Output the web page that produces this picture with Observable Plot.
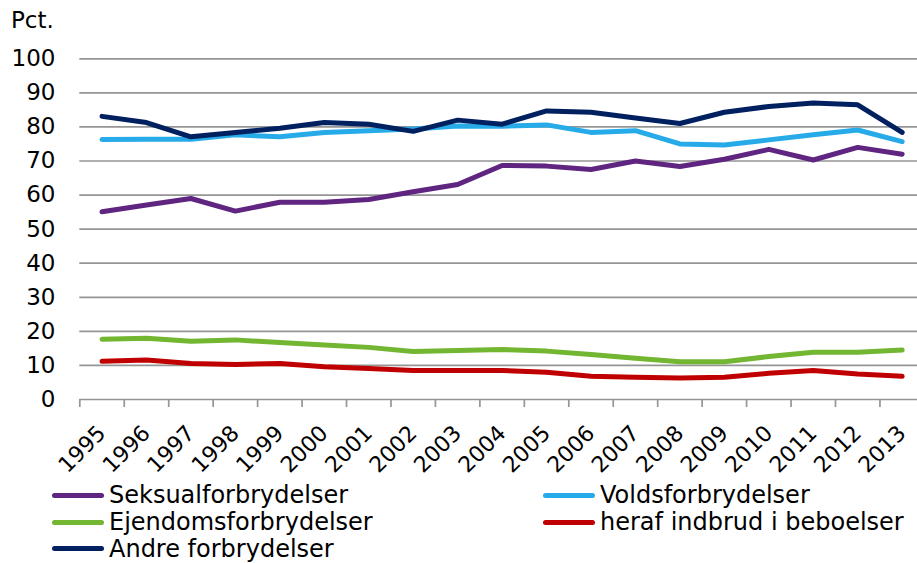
<!DOCTYPE html>
<html>
<head>
<meta charset="utf-8">
<script src="https://cdn.jsdelivr.net/npm/d3@7"></script>
<script src="https://cdn.jsdelivr.net/npm/@observablehq/plot@0.6"></script>
<style>
  html, body { margin: 0; padding: 0; background: #fff; }
  #wrap { position: relative; width: 917px; height: 563px; overflow: hidden; font-family: "DejaVu Sans", Verdana, sans-serif; }
  #pct { position: absolute; left: 11px; top: 7px; font-size: 23px; color: #000; }
  #legend { position: absolute; left: 0; top: 481px; width: 917px; height: 82px; }
  .item { position: absolute; display: flex; align-items: center; font-size: 24px; line-height: 28px; color: #000; white-space: nowrap; }
  .sw { width: 52px; height: 5px; border-radius: 3px; margin-right: 5px; }
</style>
</head>
<body>
<div id="wrap">
  <div id="chart"></div>
  <div id="pct">Pct.</div>
  <div id="legend"></div>
</div>
<script>
const years = [1995,1996,1997,1998,1999,2000,2001,2002,2003,2004,2005,2006,2007,2008,2009,2010,2011,2012,2013];
const seriesNames = ["Seksualforbrydelser","Voldsforbrydelser","Ejendomsforbrydelser","heraf indbrud i beboelser","Andre forbrydelser"];
const seriesColors = ["#5F2580","#27AAE8","#72B632","#C00000","#002060"];
const seksual  = [55.1,57.1,59.0,55.3,57.9,57.9,58.7,61.0,63.1,68.7,68.5,67.5,70.0,68.4,70.5,73.4,70.3,74.0,72.0];
const volds    = [76.3,76.4,76.4,77.7,77.1,78.4,78.9,79.4,80.3,80.2,80.6,78.4,78.9,75.0,74.7,76.2,77.7,79.1,75.7];
const ejendom  = [17.7,18.0,17.1,17.5,16.7,16.0,15.3,14.1,14.4,14.7,14.2,13.2,12.1,11.1,11.1,12.6,13.9,13.9,14.5];
const indbrud  = [11.2,11.6,10.6,10.3,10.6,9.6,9.1,8.5,8.5,8.5,8.0,6.8,6.5,6.3,6.5,7.7,8.5,7.5,6.8];
const andre    = [83.1,81.3,77.1,78.4,79.6,81.3,80.8,78.7,82.0,80.8,84.7,84.3,82.6,81.0,84.3,86.0,87.0,86.5,78.4];
const yTicks = [0,10,20,30,40,50,60,70,80,90,100];

const seriesValues = [seksual, volds, ejendom, indbrud, andre];
const rows = [];
seriesNames.forEach((name, s) => {
  years.forEach((yr, i) => rows.push({series: name, year: yr, value: seriesValues[s][i]}));
});
const boundaries = [...years.map(y => y - 0.5), years[years.length - 1] + 0.5];
const gray = "#959595";

const chart = Plot.plot({
  width: 917,
  height: 481,
  marginLeft: 79,
  marginRight: 0,
  marginTop: 58,
  marginBottom: 82,
  style: {fontFamily: "DejaVu Sans, Verdana, sans-serif", fontSize: "23px", color: "#000", background: "#fff"},
  x: {domain: [years[0] - 0.5, years[years.length - 1] + 0.5], range: [79.3, 923.9]},
  y: {domain: [0, 100], range: [399, 58.3]},
  color: {domain: seriesNames, range: seriesColors},
  marks: [
    Plot.ruleY(yTicks.filter(d => d > 0), {x1: boundaries[0], x2: boundaries[boundaries.length - 1], stroke: gray, strokeWidth: 1.7}),
    Plot.ruleY([0], {x1: boundaries[0], x2: boundaries[boundaries.length - 1], stroke: gray, strokeWidth: 1.7}),
    Plot.axisX(boundaries, {tickSize: 8, tickFormat: () => "", stroke: gray, strokeWidth: 1.7, label: null}),
    Plot.axisX(years, {tickSize: 0, tickRotate: -45, tickPadding: 30, tickFormat: d => String(d), label: null, fontSize: 22}),
    Plot.axisY(yTicks, {tickSize: 0, tickPadding: 24, label: null, fontSize: 23}),
    Plot.line(rows, {x: "year", y: "value", z: "series", stroke: "series", strokeWidth: 5, strokeLinecap: "round", strokeLinejoin: "round"})
  ]
});
document.getElementById("chart").appendChild(chart);

const legendPos = [
  {left: 52, top: 0}, {left: 543, top: 0},
  {left: 52, top: 27}, {left: 543, top: 27},
  {left: 52, top: 53.5}
];
const legend = document.getElementById("legend");
seriesNames.forEach((name, i) => {
  const it = document.createElement("div");
  it.className = "item";
  it.style.left = legendPos[i].left + "px";
  it.style.top = legendPos[i].top + "px";
  it.innerHTML = `<span class="sw" style="background:${seriesColors[i]}"></span><span>${name}</span>`;
  legend.appendChild(it);
});
</script>
</body>
</html>
